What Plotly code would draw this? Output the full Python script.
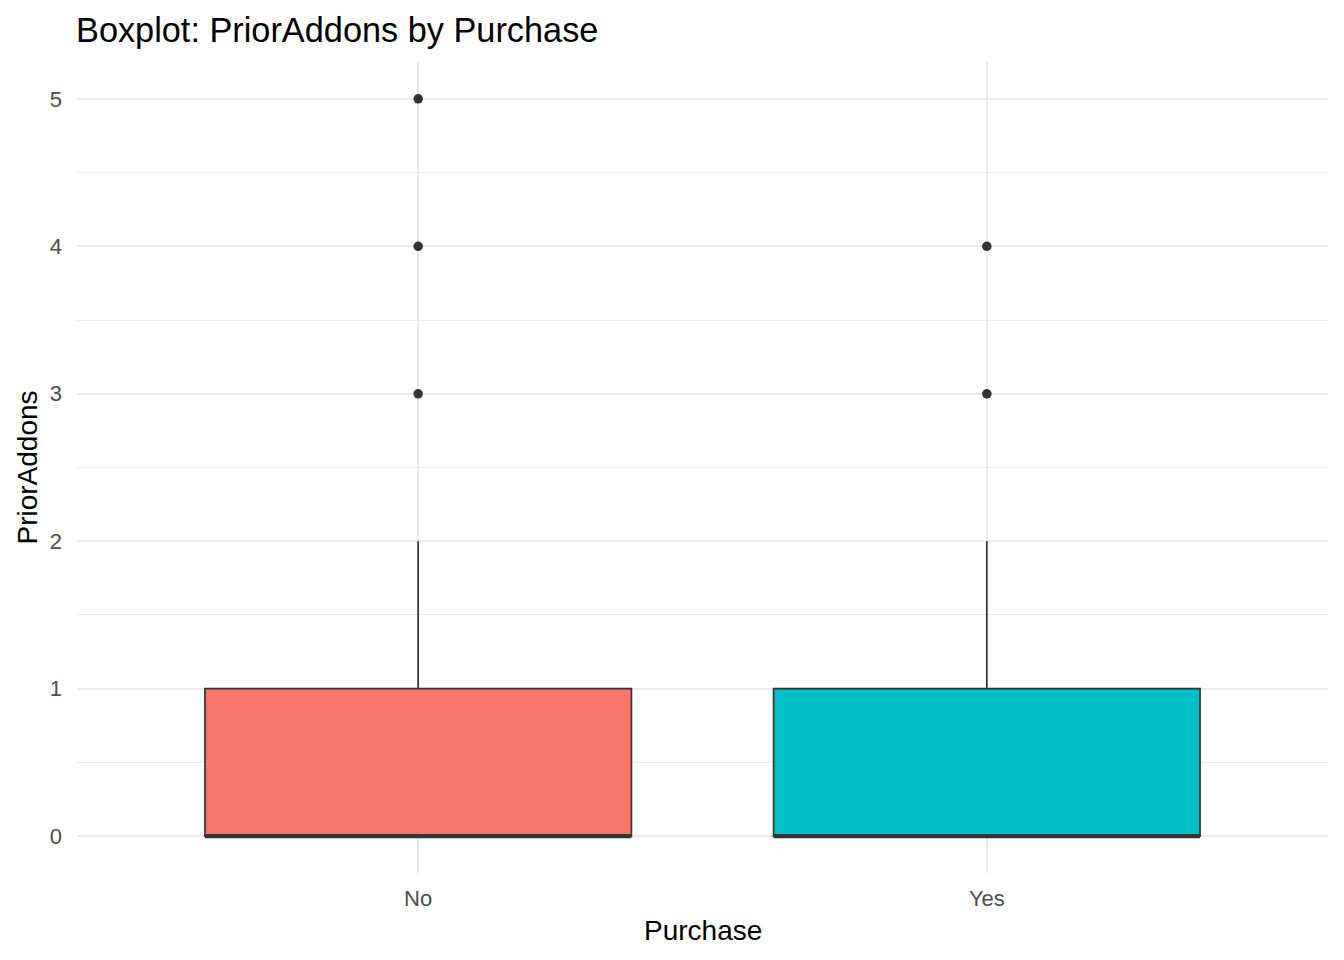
import plotly.graph_objects as go

categories = ["No", "Yes"]
positions = [1, 2]
q1 = [0, 0]
median = [0, 0]
q3 = [1, 1]
lower_fence = [0, 0]
upper_fence = [2, 2]
outliers = [[3, 4, 5], [3, 4]]
fill_colors = ["#F8766D", "#00BFC4"]

box_width = 0.75
edge = "#333333"

fig = go.Figure()
for i, cat in enumerate(categories):
    fig.add_trace(go.Box(
        x=[positions[i]], q1=[q1[i]], median=[median[i]], q3=[q3[i]],
        lowerfence=[lower_fence[i]], upperfence=[upper_fence[i]],
        width=box_width, whiskerwidth=0, fillcolor=fill_colors[i],
        line=dict(color=edge, width=1.7), boxpoints=False,
        name=cat, showlegend=False, hoverinfo="skip",
    ))
    fig.add_trace(go.Scatter(
        x=[positions[i] - box_width / 2, positions[i] + box_width / 2],
        y=[median[i], median[i]], mode="lines",
        line=dict(color=edge, width=4), showlegend=False, hoverinfo="skip",
    ))
    fig.add_trace(go.Scatter(
        x=[positions[i]] * len(outliers[i]), y=outliers[i], mode="markers",
        marker=dict(color=edge, size=9.5), showlegend=False, hoverinfo="skip",
    ))

font = "Liberation Sans, Arial, sans-serif"
fig.update_layout(
    width=1344, height=960,
    margin=dict(l=77, r=16, t=62, b=87),
    plot_bgcolor="white", paper_bgcolor="white",
    font=dict(family=font),
    title=dict(text="Boxplot: PriorAddons by Purchase", x=76/1344, xanchor="left",
               xref="container", y=1 - 30/960, yanchor="middle",
               font=dict(size=34.3, color="black", family=font)),
    xaxis=dict(range=[0.4, 2.6], tickvals=positions, ticktext=categories,
               showgrid=True, gridcolor="#EBEBEB", gridwidth=1.6, zeroline=False,
               ticks="", ticklabelstandoff=10,
               tickfont=dict(size=22, color="#4D4D4D", family=font), showline=False),
    yaxis=dict(range=[-0.25, 5.25], tickvals=[0, 1, 2, 3, 4, 5],
               showgrid=True, gridcolor="#EBEBEB", gridwidth=1.6, zeroline=False,
               ticks="", ticklabelstandoff=14,
               minor=dict(dtick=0.5, tick0=0, showgrid=True, gridcolor="#EBEBEB", gridwidth=0.8),
               tickfont=dict(size=22, color="#4D4D4D", family=font), showline=False),
    annotations=[
        dict(text="Purchase", xref="paper", yref="paper", x=0.5, y=0,
             yshift=-57, xanchor="center", yanchor="middle", showarrow=False,
             font=dict(size=28, color="black", family=font)),
        dict(text="PriorAddons", xref="paper", yref="paper", x=0, y=0.5,
             xshift=-50, xanchor="center", yanchor="middle", textangle=-90, showarrow=False,
             font=dict(size=28, color="black", family=font)),
    ],
)

fig.write_html("out.html")
